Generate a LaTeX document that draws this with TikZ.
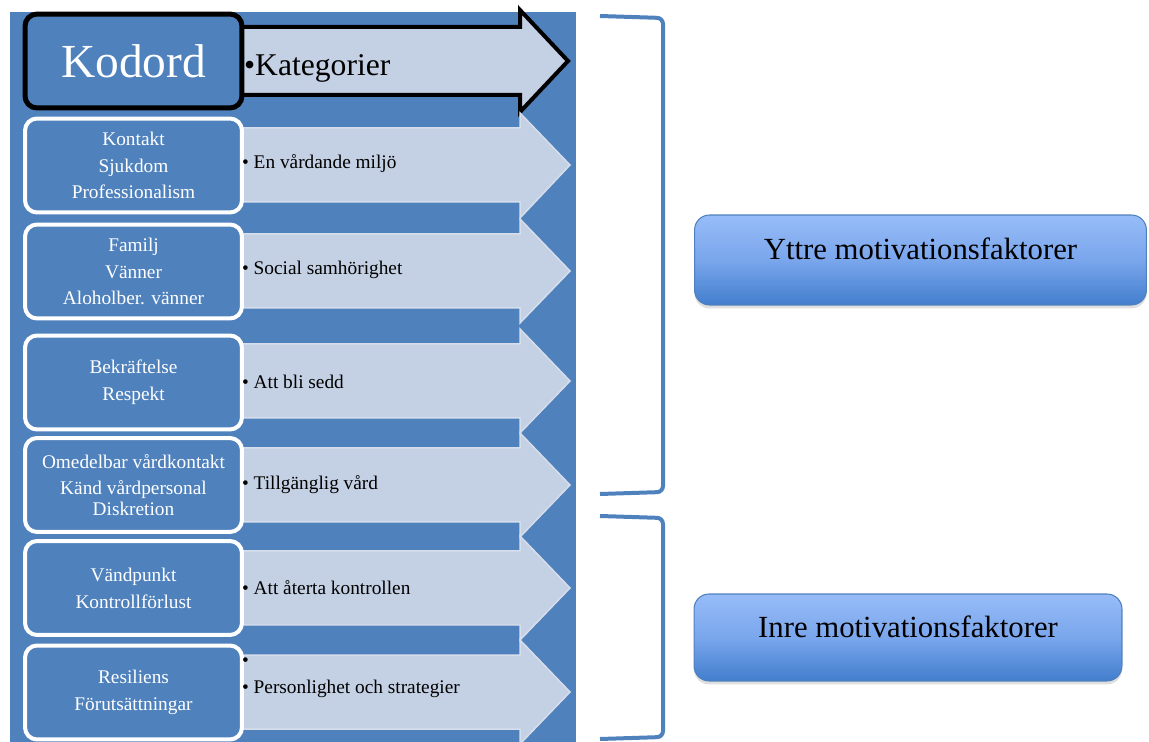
\documentclass[tikz,border=0pt]{standalone}
\usepackage{fontspec}
\setmainfont{Liberation Serif}
\usetikzlibrary{shadows}
\definecolor{bgblue}{RGB}{79,129,189}
\definecolor{arrowfill}{RGB}{196,208,227}
\definecolor{arrowedge}{RGB}{214,222,236}
\definecolor{mottop}{RGB}{151,188,248}
\definecolor{motmid}{RGB}{122,166,236}
\definecolor{motbottom}{RGB}{66,126,205}
\tikzset{
	kodbox/.style={draw=white, line width=0.08cm, fill=bgblue, rounded corners=0.24cm, minimum width=4.34cm, minimum height=1.88cm, text=white, align=center, font=\fontsize{11}{15.3}\selectfont},
	kodhead/.style={kodbox, draw=black, line width=0.1cm, font=\fontsize{27}{30}\selectfont},
	catarrow/.style={fill=arrowfill, draw=arrowedge, line width=0.03cm},
	catlabel/.style={anchor=west, inner sep=1pt, align=left, font=\fontsize{11}{15.6}\selectfont},
	motbox/.style={draw=bgblue, line width=0.6pt, rounded corners=0.3cm, top color=mottop, bottom color=motbottom, middle color=motmid, text height=0.35cm, text depth=0.35cm, font=\fontsize{17.5}{20}\selectfont, drop shadow={shadow xshift=0pt, shadow yshift=-0.07cm, opacity=0.25}},
	bracketline/.style={draw=bgblue, line width=0.08cm, rounded corners=0.12cm}
}
\begin{document}
\begin{tikzpicture}[x=0.02cm, y=-0.02cm]
	\useasboundingbox (0, 0) rectangle (1149, 742);
	\fill[bgblue] (10, 12) rectangle (576, 742);
	% arrows
	\draw[fill=arrowfill, draw=black, line width=0.08cm] (236, 27) -- (520, 27) -- (520, 10) -- (568, 61) -- (520, 112) -- (520, 95) -- (236, 95) -- cycle;
	\draw[catarrow] (236, 128) -- (520, 128) -- (520, 113) -- (570, 165) -- (520, 218) -- (520, 202) -- (236, 202) -- cycle;
	\draw[catarrow] (236, 234) -- (520, 234) -- (520, 219) -- (570, 271) -- (520, 323) -- (520, 308) -- (236, 308) -- cycle;
	\draw[catarrow] (236, 344) -- (520, 344) -- (520, 329) -- (570, 381) -- (520, 433) -- (520, 418) -- (236, 418) -- cycle;
	\draw[catarrow] (236, 448) -- (520, 448) -- (520, 433) -- (570, 485) -- (520, 537) -- (520, 522) -- (236, 522) -- cycle;
	\draw[catarrow] (236, 551) -- (520, 551) -- (520, 536) -- (570, 588) -- (520, 640) -- (520, 625) -- (236, 625) -- cycle;
	\draw[catarrow] (236, 655) -- (520, 655) -- (520, 640) -- (570, 692) -- (520, 744) -- (520, 729) -- (236, 729) -- cycle;
	% kodord
	\node[kodhead] (kodord) at (133.5, 61) {Kodord};
	\node[kodbox] (vardmiljo) at (133.5, 165.5) {Kontakt\\Sjukdom\\Professionalism};
	\node[kodbox] (social) at (133.5, 271.5) {Familj\\Vänner\\Aloholber. vänner};
	\node[kodbox] (sedd) at (133.5, 382.5) {Bekräftelse\\Respekt};
	\node[kodbox] (tillgang) at (133.5, 485) {Omedelbar vårdkontakt\\Känd vårdpersonal\\[-3.5pt]Diskretion};
	\node[kodbox] (kontroll) at (133.5, 588) {Vändpunkt\\Kontrollförlust};
	\node[kodbox] (person) at (133.5, 692.5) {Resiliens\\Förutsättningar};
	% kategorier
	\node[catlabel, font=\fontsize{18}{20}\selectfont] (kategorier) at (242, 68) {•Kategorier};
	\node[catlabel] (katvard) at (240, 164) {• En vårdande miljö};
	\node[catlabel] (katsocial) at (240, 270) {• Social samhörighet};
	\node[catlabel] (katsedd) at (240, 382) {• Att bli sedd};
	\node[catlabel] (kattill) at (240, 485) {• Tillgänglig vård};
	\node[catlabel] (katkontroll) at (240, 588) {• Att återta kontrollen};
	\node[catlabel] (katperson) at (240, 678) {•\\• Personlighet och strategier};
	% motivationsfaktorer
	\draw[bracketline] (600, 16) -- (663, 18) -- (663, 492) -- (600, 494);
	\draw[bracketline] (600, 516) -- (663, 518) -- (663, 737) -- (600, 739);
	\node[motbox, minimum width=9.04cm, minimum height=1.8cm] (yttre) at (920.5, 260) {Yttre motivationsfaktorer};
	\node[motbox, minimum width=8.56cm, minimum height=1.74cm] (inre) at (908, 637.5) {Inre motivationsfaktorer};
\end{tikzpicture}
\end{document}
